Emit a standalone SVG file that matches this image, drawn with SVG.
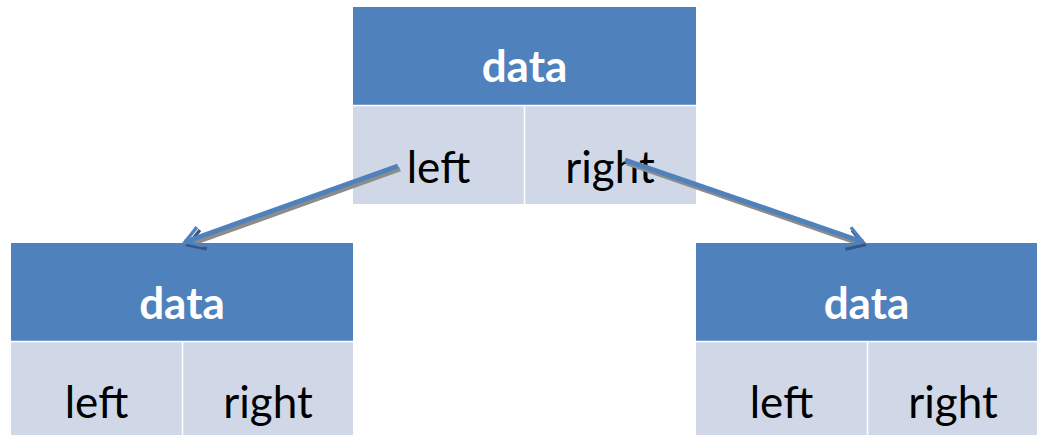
<svg xmlns="http://www.w3.org/2000/svg" width="1039" height="435" viewBox="0 0 1039 435">
  <defs>
    <style>
      .hdr { fill: #4f81bd; }
      .cell { fill: #d0d8e8; }
      .sep { stroke: #ffffff; stroke-width: 1.5; }
      .title { font-family: Lato, "Liberation Sans", sans-serif; font-weight: bold; font-size: 44px; fill: #ffffff; text-anchor: middle; }
      .ptr { font-family: Lato, "Liberation Sans", sans-serif; font-size: 44px; fill: #000000; text-anchor: middle; }
      .link { fill: none; stroke: #4f81bd; stroke-width: 5; }
      .shadow { fill: none; stroke: #8c8c8c; stroke-width: 5; }
    </style>
    <marker id="head" viewBox="0 0 10 10" refX="8.5" refY="5" markerWidth="5" markerHeight="5" orient="auto" markerUnits="strokeWidth">
      <path d="M2,1 L8.5,5 L2,9" fill="none" stroke="#4f81bd" stroke-width="1.3"/>
    </marker>
    <marker id="headShadow" viewBox="0 0 10 10" refX="8.5" refY="5" markerWidth="5" markerHeight="5" orient="auto" markerUnits="strokeWidth">
      <path d="M2,1 L8.5,5 L2,9" fill="none" stroke="#35567f" stroke-width="1.3"/>
    </marker>
  </defs>

  <!-- root node -->
  <g id="root">
    <rect class="hdr" x="353" y="7" width="343" height="98"/>
    <rect class="cell" x="353" y="106" width="343" height="98"/>
    <line class="sep" x1="353" y1="105.5" x2="696" y2="105.5"/>
    <line class="sep" x1="524.5" y1="106" x2="524.5" y2="204"/>
    <text class="title" x="524.5" y="82">data</text>
    <text class="ptr" x="438.5" y="183">left</text>
    <text class="ptr" x="610" y="183">right</text>
  </g>

  <!-- left child -->
  <g id="leftChild">
    <rect class="hdr" x="11" y="243" width="342" height="98"/>
    <rect class="cell" x="11" y="342" width="342" height="93"/>
    <line class="sep" x1="11" y1="341.5" x2="353" y2="341.5"/>
    <line class="sep" x1="182.5" y1="342" x2="182.5" y2="435"/>
    <text class="title" x="182" y="319">data</text>
    <text class="ptr" x="96.5" y="418">left</text>
    <text class="ptr" x="268" y="418">right</text>
  </g>

  <!-- right child -->
  <g id="rightChild">
    <rect class="hdr" x="696" y="243" width="341" height="98"/>
    <rect class="cell" x="696" y="342" width="341" height="93"/>
    <line class="sep" x1="696" y1="341.5" x2="1037" y2="341.5"/>
    <line class="sep" x1="867.5" y1="342" x2="867.5" y2="435"/>
    <text class="title" x="866.5" y="319">data</text>
    <text class="ptr" x="781.5" y="418">left</text>
    <text class="ptr" x="953" y="418">right</text>
  </g>

  <!-- pointer links, each with a soft drop shadow -->
  <g id="links">
    <line class="shadow" x1="400" y1="169" x2="188" y2="245" marker-end="url(#headShadow)"/>
    <line class="shadow" x1="627" y1="163" x2="864" y2="245" marker-end="url(#headShadow)"/>
    <line class="link" x1="398" y1="166" x2="185" y2="242" marker-end="url(#head)"/>
    <line class="link" x1="625" y1="160" x2="863" y2="242" marker-end="url(#head)"/>
  </g>
</svg>
